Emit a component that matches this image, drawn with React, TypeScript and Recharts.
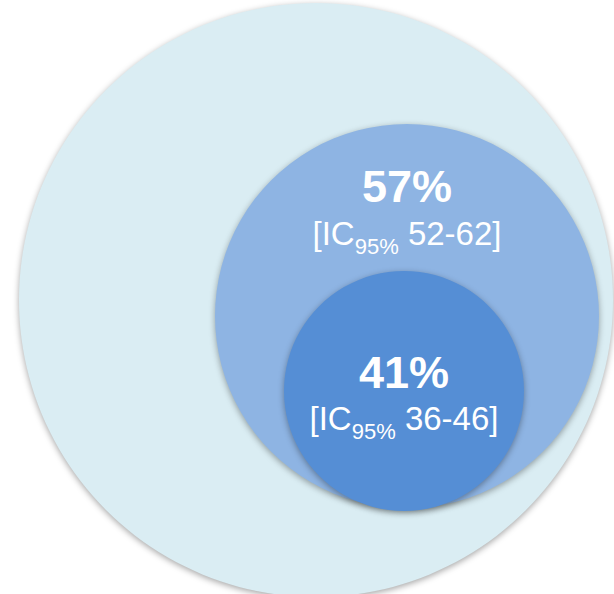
import React from 'react';
import { PieChart, Pie, Cell } from 'recharts';

// Circles: whole population, first subgroup, second subgroup
const circleNames: string[] = ['Total', 'Groupe 1', 'Groupe 2'];
const circleValues: number[] = [100, 57, 41];
const ciLow: number[] = [0, 52, 36];
const ciHigh: number[] = [0, 62, 46];
const circleColors: string[] = ['#DAEDF3', '#8EB4E3', '#558ED5'];

const FONT = '"Liberation Sans", Arial, sans-serif';

const makeData = (i: number) => [{ name: circleNames[i], value: circleValues[i] }];

const shadow = 'drop-shadow(0px 2px 3px rgba(0,0,0,0.35))';

const makeLabel = (i: number, dyMain: number, dyCi: number) => (props: any) => {
  const { cx, cy } = props;
  return (
    <g>
      <text
        x={cx}
        y={cy + dyMain}
        textAnchor="middle"
        fill="#FFFFFF"
        fontFamily={FONT}
        fontWeight="bold"
        fontSize={45}
      >
        {`${circleValues[i]}%`}
      </text>
      <text
        x={cx}
        y={cy + dyCi}
        textAnchor="middle"
        fill="#FFFFFF"
        fontFamily={FONT}
        fontSize={33}
      >
        <tspan>[IC</tspan>
        <tspan fontSize={22} dy={9}>95%</tspan>
        <tspan dy={-9}>{` ${ciLow[i]}-${ciHigh[i]}]`}</tspan>
      </text>
    </g>
  );
};

export default function App() {
  return (
    <div style={{ position: 'absolute', left: 0, top: 0, width: 614, height: 594, background: '#FFFFFF' }}>
      <PieChart width={614} height={594} margin={{ top: 0, right: 0, bottom: 0, left: 0 }}>
        <Pie
          data={makeData(0)}
          dataKey="value"
          cx={316}
          cy={300}
          outerRadius={297}
          startAngle={90}
          endAngle={-270}
          stroke="none"
          isAnimationActive={false}
        >
          <Cell fill={circleColors[0]} style={{ filter: shadow }} />
        </Pie>
        <Pie
          data={makeData(1)}
          dataKey="value"
          cx={407}
          cy={316}
          outerRadius={192}
          startAngle={90}
          endAngle={-270}
          stroke="none"
          isAnimationActive={false}
          labelLine={false}
          label={makeLabel(1, -114, -71)}
        >
          <Cell fill={circleColors[1]} style={{ filter: shadow }} />
        </Pie>
        <Pie
          data={makeData(2)}
          dataKey="value"
          cx={404}
          cy={391}
          outerRadius={120}
          startAngle={90}
          endAngle={-270}
          stroke="none"
          isAnimationActive={false}
          labelLine={false}
          label={makeLabel(2, -3, 39)}
        >
          <Cell fill={circleColors[2]} style={{ filter: shadow }} />
        </Pie>
      </PieChart>
    </div>
  );
}
